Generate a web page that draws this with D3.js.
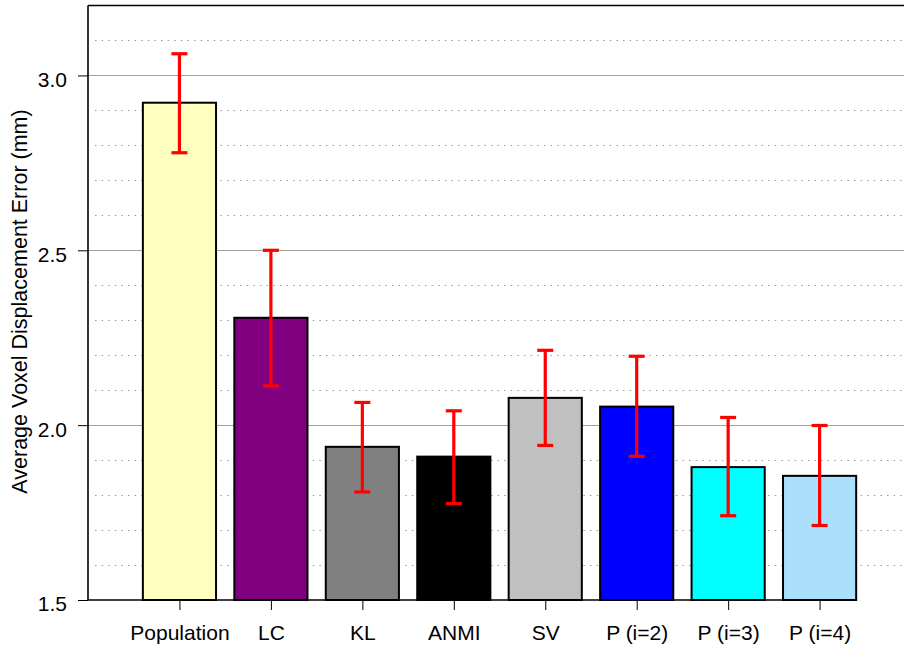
<!DOCTYPE html>
<html>
<head>
<meta charset="utf-8">
<script src="https://cdn.jsdelivr.net/npm/d3@7"></script>
<style>
  html, body { margin: 0; padding: 0; background: #fff; }
  svg { display: block; font-family: "Liberation Sans", Arial, sans-serif; }
</style>
</head>
<body>
<svg id="chart" width="904" height="648"></svg>
<script>
const categories = ["Population", "LC", "KL", "ANMI", "SV", "P (i=2)", "P (i=3)", "P (i=4)"];
const values     = [2.922, 2.307, 1.938, 1.910, 2.078, 2.053, 1.880, 1.855];
const errUpper   = [3.062, 2.500, 2.065, 2.041, 2.214, 2.197, 2.022, 1.999];
const errLower   = [2.779, 2.112, 1.809, 1.776, 1.942, 1.911, 1.741, 1.713];
const barColors  = ["#ffffc0", "#800080", "#808080", "#000000", "#c0c0c0", "#0000ff", "#00ffff", "#aae0fc"];
const yMajorTicks = [1.5, 2.0, 2.5, 3.0];
const yMinorTicks = [1.6, 1.7, 1.8, 1.9, 2.1, 2.2, 2.3, 2.4, 2.6, 2.7, 2.8, 2.9, 3.1];
const yTitle = "Average Voxel Displacement Error (mm)";

(function () {
const svg = d3.select("#chart");
const mLeft = 88, mTop = 5.5, mBottom = 600, mRight = 904;
const step = 91.45;

const x = d3.scaleLinear().domain([0, 9]).range([mLeft, mLeft + 9 * step]);
const y = d3.scaleLinear().domain([1.5, 3.2]).range([mBottom, mTop]);
const barW = 0.8;

// minor dotted gridlines
svg.append("g").selectAll("line").data(yMinorTicks).join("line")
  .attr("x1", mLeft + 7).attr("x2", mRight)
  .attr("y1", d => Math.round(y(d)) + 0.5).attr("y2", d => Math.round(y(d)) + 0.5)
  .attr("stroke", "#9a9a9a").attr("stroke-width", 1.2)
  .attr("stroke-dasharray", "1.5,5.1");

// major gridlines
svg.append("g").selectAll("line").data(yMajorTicks.filter(d => d > 1.5)).join("line")
  .attr("x1", mLeft).attr("x2", mRight)
  .attr("y1", d => Math.round(y(d)) + 0.5).attr("y2", d => Math.round(y(d)) + 0.5)
  .attr("stroke", "#a0a0a0").attr("stroke-width", 1.2);

// bars
svg.append("g").selectAll("rect").data(values).join("rect")
  .attr("x", (d, i) => x(i + 1 - barW / 2))
  .attr("width", x(barW) - x(0))
  .attr("y", d => y(d))
  .attr("height", d => y(1.5) - y(d))
  .attr("fill", (d, i) => barColors[i])
  .attr("stroke", "#000").attr("stroke-width", 2);

// error bars
const eg = svg.append("g").attr("stroke", "#ff0000").attr("stroke-width", 3.2);
categories.forEach((c, i) => {
  const cx = x(i + 1);
  eg.append("line").attr("x1", cx).attr("x2", cx).attr("y1", y(errUpper[i])).attr("y2", y(errLower[i]));
  eg.append("line").attr("x1", cx - 8).attr("x2", cx + 8).attr("y1", y(errUpper[i])).attr("y2", y(errUpper[i]));
  eg.append("line").attr("x1", cx - 8).attr("x2", cx + 8).attr("y1", y(errLower[i])).attr("y2", y(errLower[i]));
});

// frame: top border, left axis, bottom axis
svg.append("line").attr("x1", mLeft).attr("x2", mRight).attr("y1", mTop).attr("y2", mTop)
  .attr("stroke", "#000").attr("stroke-width", 1.6);
svg.append("line").attr("x1", mLeft).attr("x2", mLeft).attr("y1", mTop).attr("y2", mBottom)
  .attr("stroke", "#000").attr("stroke-width", 1.6);
svg.append("line").attr("x1", mLeft).attr("x2", x(8 + barW / 2)).attr("y1", mBottom).attr("y2", mBottom)
  .attr("stroke", "#000").attr("stroke-width", 1.6);

// y axis ticks and labels
const yAxis = d3.axisLeft(y).tickValues(yMajorTicks).tickFormat(d3.format(".1f")).tickSize(10).tickPadding(11);
const gy = svg.append("g").attr("transform", `translate(${mLeft},0)`).call(yAxis);
gy.select(".domain").remove();
gy.selectAll(".tick line").attr("stroke", "#000").attr("stroke-width", 1);
gy.selectAll(".tick text").attr("font-size", 21).attr("fill", "#000")
  .attr("font-family", "Liberation Sans, Arial, sans-serif").attr("dy", "0.52em");

// x axis ticks and labels
const xAxis = d3.axisBottom(x).tickValues(d3.range(1, 9)).tickFormat(d => categories[d - 1]).tickSize(10).tickPadding(15);
const gx = svg.append("g").attr("transform", `translate(0,${mBottom})`).call(xAxis);
gx.select(".domain").remove();
gx.selectAll(".tick line").attr("stroke", "#000").attr("stroke-width", 1);
gx.selectAll(".tick text").attr("font-size", 21).attr("fill", "#000")
  .attr("font-family", "Liberation Sans, Arial, sans-serif");

// y title
svg.append("text")
  .attr("transform", `translate(27,${(108 + 495) / 2}) rotate(-90)`)
  .attr("text-anchor", "middle")
  .attr("font-size", 21.5)
  .attr("fill", "#000")
  .text(yTitle);
})();
</script>
</body>
</html>
